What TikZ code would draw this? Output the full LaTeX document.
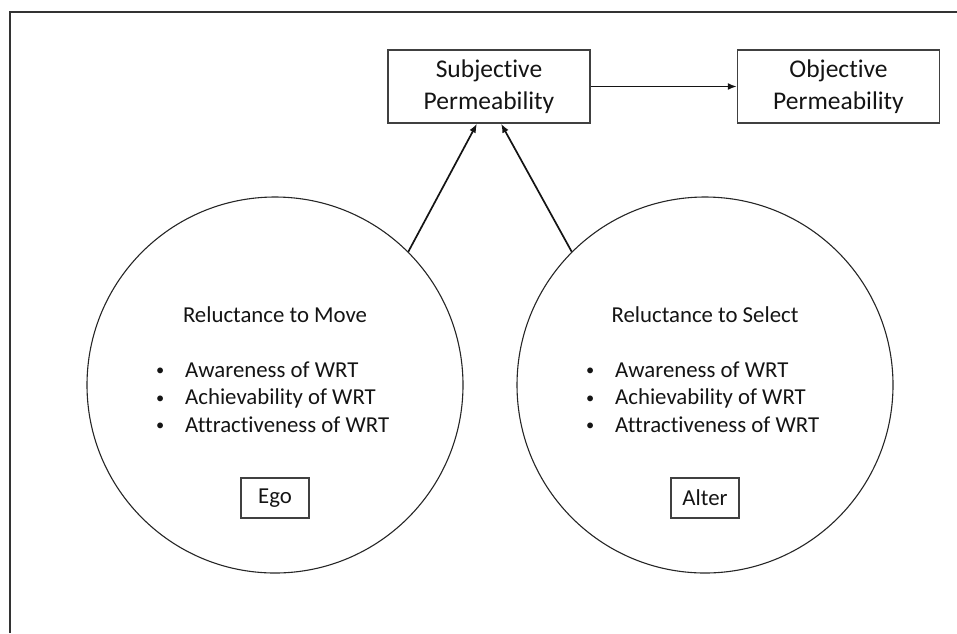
\documentclass[tikz,border=0pt]{standalone}
\usepackage{fontspec}
\setmainfont{Carlito}[Ligatures={NoCommon,NoContextual}]
\usetikzlibrary{arrows.meta,calc}
\newcommand{\itembullet}{\makebox[29pt][l]{\raisebox{1.5pt}{\scalebox{0.72}{•}}}}
\begin{document}
\begin{tikzpicture}[x=1pt,y=-1pt,
  every node/.style={text=black!92},
  permbox/.style={draw=black!75, line width=1.4pt, minimum width=202pt, minimum height=73pt,
    align=center, inner sep=0pt, font=\fontsize{25.5}{31.7}\selectfont},
  reluct/.style={circle, draw=black!85, line width=1.1pt, minimum size=376pt, inner sep=0pt},
  rolebox/.style={draw=black!75, line width=1.2pt, minimum width=68pt, minimum height=40pt,
    inner sep=0pt, font=\fontsize{22.8}{26}\selectfont},
  headline/.style={anchor=base, inner sep=0pt, font=\fontsize{22.8}{26}\selectfont},
  itemline/.style={anchor=base west, inner sep=0pt, font=\fontsize{22.8}{26}\selectfont},
  link/.style={-{Latex[length=9pt,width=7pt]}, line width=1.7pt, draw=black!92},
  frame/.style={line width=1.6pt, draw=black!80}
]
\useasboundingbox (0,0) rectangle (957,633);

% partial frame: left and top edges
\draw[frame] (10,633) -- (10,12) -- (957,12);

% permeability boxes
\node[permbox] (subj) at (489,86.5) {Subjective\\Permeability};
\node[permbox] (obj) at (838.5,86.5) {Objective\\Permeability};

% ego circle
\node[reluct] (egoC) at (275,385) {};
\node[headline] (egoT) at ($(egoC)+(0,-63)$) {Reluctance to Move};
\foreach \t [count=\i] in {Awareness,Achievability,Attractiveness} {
  \node[itemline] (egoI\i) at ($(egoC)+(-119,{-8+27.5*(\i-1)})$)
    {\itembullet\t{} of WRT};
}
\node[rolebox] (ego) at ($(egoC)+(0,113)$) {Ego};

% alter circle
\node[reluct] (alterC) at (705,385) {};
\node[headline] (alterT) at ($(alterC)+(0,-63)$) {Reluctance to Select};
\foreach \t [count=\i] in {Awareness,Achievability,Attractiveness} {
  \node[itemline] (alterI\i) at ($(alterC)+(-119,{-8+27.5*(\i-1)})$)
    {\itembullet\t{} of WRT};
}
\node[rolebox] (alter) at ($(alterC)+(0,113)$) {Alter};

% connectors
\draw[link] (subj) -- (obj);
\draw[link] (egoC.45) -- (subj.252);
\draw[link] (alterC.135) -- (subj.288);
\end{tikzpicture}
\end{document}
